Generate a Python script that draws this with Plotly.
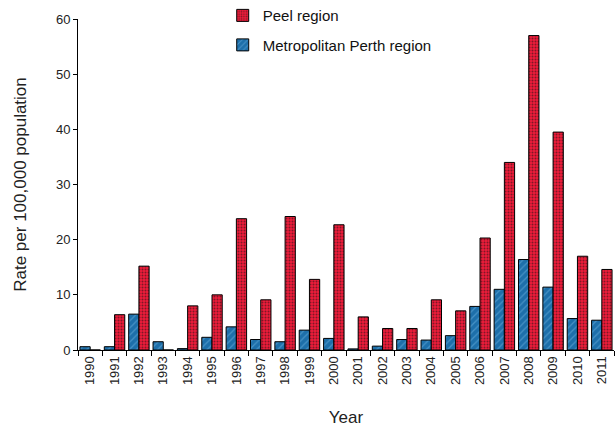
import plotly.graph_objects as go

years = [str(y) for y in range(1990, 2012)]
metro = [0.6, 0.6, 6.5, 1.5, 0.25, 2.3, 4.2, 1.9, 1.5, 3.6, 2.1, 0.2, 0.7, 1.9, 1.8, 2.6, 7.9, 11.0, 16.4, 11.4, 5.7, 5.4]
peel = [0, 6.4, 15.2, 0, 8.0, 10.0, 23.8, 9.1, 24.2, 12.8, 22.7, 6.0, 3.9, 3.9, 9.1, 7.1, 20.3, 34.0, 57.0, 39.5, 17.0, 14.6]

fig = go.Figure()
fig.add_trace(go.Bar(
    x=years, y=metro, name="Metropolitan Perth region", legendgroup="m", legendrank=2,
    marker=dict(color="#1D6FAA", line=dict(color="black", width=1),
                pattern=dict(shape="/", fgcolor="#6FB3E0", size=5, solidity=0.25)),
))
fig.add_trace(go.Bar(
    x=years, y=peel, name="Peel region", legendgroup="p", legendrank=1,
    marker=dict(color="#EE1C3A", line=dict(color="black", width=1),
                pattern=dict(shape=".", fgcolor="#111111", size=3, solidity=0.35)),
))

fig.update_layout(
    width=616, height=427,
    margin=dict(l=78, r=2, t=19, b=77, autoexpand=False),
    paper_bgcolor="white", plot_bgcolor="white",
    barmode="group", bargap=0.16, bargroupgap=0.0,
    font=dict(family="Liberation Sans, Arial, sans-serif", color="#222222", size=12),
    showlegend=True,
    legend=dict(x=0.27, y=1.06, xanchor="left", yanchor="top", traceorder="grouped",
                font=dict(size=15, color="#111111"), bgcolor="rgba(0,0,0,0)",
                itemwidth=30, tracegroupgap=7),
    xaxis=dict(
        type="category", showline=True, linecolor="black", linewidth=1,
        ticks="outside", tickson="boundaries", ticklen=5, tickcolor="black",
        tickangle=-90, tickfont=dict(size=13, color="#222222"), automargin=False,
        title=dict(text="Year", font=dict(size=17, color="#222222"), standoff=27),
        showgrid=False,
    ),
    yaxis=dict(
        range=[0, 60], dtick=10, showline=True, linecolor="black", linewidth=1,
        ticks="outside", ticklen=4, tickcolor="black", showgrid=False, zeroline=False,
        tickfont=dict(size=13, color="#222222"), automargin=False,
        title=dict(text="Rate per 100,000 population", font=dict(size=17, color="#222222"), standoff=24),
    ),
)

fig.write_html("out.html", config={"displayModeBar": False},
               post_script="document.body.style.margin='0';")
